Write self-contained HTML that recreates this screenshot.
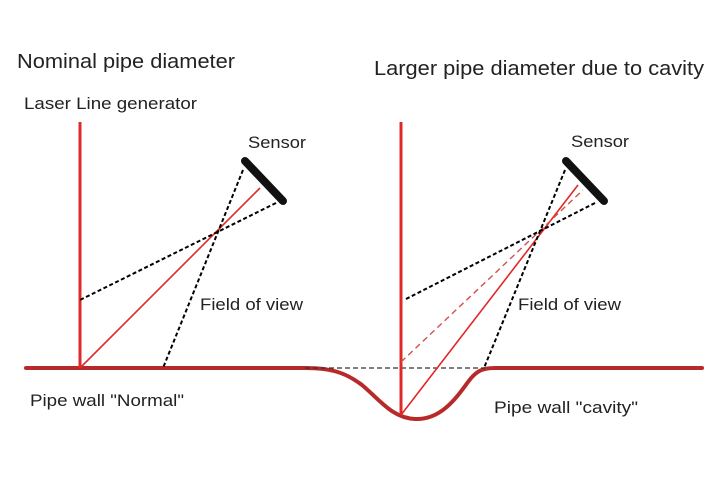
<!DOCTYPE html>
<html><head><meta charset="utf-8"><style>html,body{margin:0;padding:0;background:#fff}svg{display:block}</style></head>
<body>
<svg width="720" height="480" viewBox="0 0 720 480" xmlns="http://www.w3.org/2000/svg" font-family="Liberation Sans, sans-serif" fill="#222">
<rect width="720" height="480" fill="#fff"/>
<text x="17" y="68" font-size="20" textLength="218" lengthAdjust="spacingAndGlyphs">Nominal pipe diameter</text>
<text x="374" y="75" font-size="20" textLength="330" lengthAdjust="spacingAndGlyphs">Larger pipe diameter due to cavity</text>
<text x="24" y="109" font-size="17" textLength="173" lengthAdjust="spacingAndGlyphs">Laser Line generator</text>
<text x="248" y="148" font-size="17" textLength="58" lengthAdjust="spacingAndGlyphs">Sensor</text>
<text x="571" y="147" font-size="17" textLength="58" lengthAdjust="spacingAndGlyphs">Sensor</text>
<text x="200" y="310" font-size="17" textLength="103" lengthAdjust="spacingAndGlyphs">Field of view</text>
<text x="518" y="310" font-size="17" textLength="103" lengthAdjust="spacingAndGlyphs">Field of view</text>
<text x="30" y="406" font-size="17" textLength="154" lengthAdjust="spacingAndGlyphs">Pipe wall "Normal"</text>
<text x="494" y="413" font-size="17" textLength="144" lengthAdjust="spacingAndGlyphs">Pipe wall "cavity"</text>

<!-- ground -->
<path d="M26 368 H305 C330 368 345 372 362 385 C380 400 392 418 415 419 C440 420 455 400 468 382 C476 371 482 368 495 368 H702" fill="none" stroke="#b82a2a" stroke-width="4" stroke-linecap="round"/>
<line x1="305" y1="368" x2="485" y2="368" stroke="#333" stroke-width="1.3" stroke-dasharray="5,3"/>

<!-- left -->
<line x1="80" y1="122" x2="80" y2="368" stroke="#e02828" stroke-width="3"/>
<line x1="80" y1="368" x2="260" y2="188" stroke="#e02828" stroke-width="1.6"/>
<line x1="243" y1="170" x2="163" y2="368" stroke="#000" stroke-width="2" stroke-dasharray="4,2.5"/>
<line x1="276" y1="203" x2="80" y2="300" stroke="#000" stroke-width="2" stroke-dasharray="4,2.5"/>
<line x1="245" y1="161" x2="283" y2="201" stroke="#111" stroke-width="8" stroke-linecap="round"/>

<!-- right -->
<line x1="401" y1="122" x2="401" y2="415" stroke="#e02828" stroke-width="3"/>
<line x1="401" y1="415" x2="578" y2="185" stroke="#e02828" stroke-width="1.6"/>
<line x1="401" y1="362" x2="583" y2="190" stroke="#d05050" stroke-width="1.4" stroke-dasharray="6,4"/>
<line x1="565" y1="170" x2="484" y2="368" stroke="#000" stroke-width="2" stroke-dasharray="4,2.5"/>
<line x1="595" y1="203" x2="404" y2="300" stroke="#000" stroke-width="2" stroke-dasharray="4,2.5"/>
<line x1="566" y1="161" x2="604" y2="201" stroke="#111" stroke-width="8" stroke-linecap="round"/>
</svg>
</body></html>
